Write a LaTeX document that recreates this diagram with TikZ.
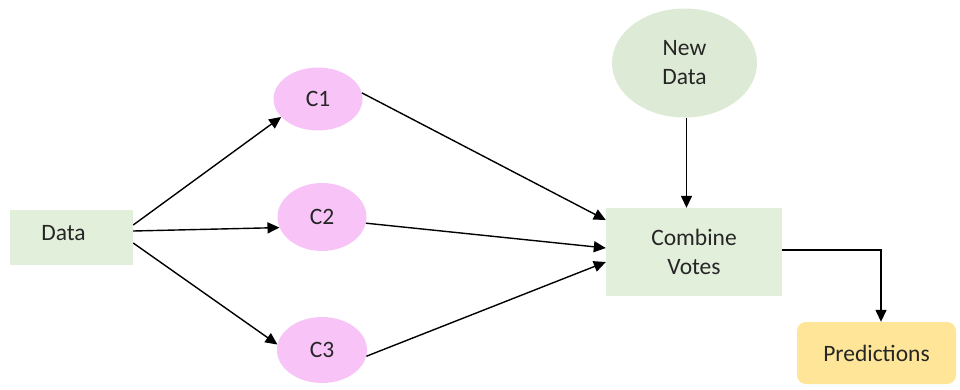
\documentclass[tikz,border=0pt]{standalone}
\usepackage{fontspec}
\setmainfont{Carlito}
\usetikzlibrary{shapes.geometric,arrows.meta}
\definecolor{boxgreen}{HTML}{E2EFDA}
\definecolor{ovalgreen}{HTML}{DDEAD5}
\definecolor{ovalpink}{HTML}{F8C4F8}
\definecolor{boxyellow}{HTML}{FFE597}
\definecolor{ink}{HTML}{262626}
\tikzset{
  every node/.style={font=\fontsize{23.5}{29}\selectfont, text=ink, inner sep=0pt, align=center},
  greenbox/.style={rectangle, fill=boxgreen},
  pinkoval/.style={ellipse, fill=ovalpink},
  greenoval/.style={ellipse, fill=ovalgreen},
  resultbox/.style={rectangle, rounded corners=9pt, fill=boxyellow},
  arr/.style={-{Triangle[length=12pt,width=11pt]}, line width=1.4pt, black}
}
\begin{document}
\begin{tikzpicture}[x=1pt,y=-1pt]
\useasboundingbox (0,0) rectangle (960,389);
% input data and the three classifiers
\node[greenbox, minimum width=123pt, minimum height=55pt,
      label={[xshift=-8pt,yshift=4pt]center:Data}] (data) at (71.5,237.5) {};
\node[pinkoval, minimum width=89pt, minimum height=63pt] (c1) at (318,99) {C1};
\node[pinkoval, minimum width=89pt, minimum height=68pt] (c2) at (322,217) {C2};
\node[pinkoval, minimum width=90pt, minimum height=66pt] (c3) at (322,350) {C3};
% voting stage
\node[greenoval, minimum width=145pt, minimum height=109pt] (nd) at (684.5,63) {New\\Data};
\node[greenbox, minimum width=176pt, minimum height=88pt] (comb) at (694,252) {Combine\\Votes};
\node[resultbox, minimum width=159pt, minimum height=62pt] (pred) at (876.5,353) {Predictions};
% connectors
\draw[arr] ([yshift=12.5pt]data.east) -- (c1.206);
\draw[arr] ([yshift=6.5pt]data.east) -- (c2.194);
\draw[arr] ([yshift=-5.5pt]data.east) -- (c3.173);
\draw[arr] (c1.8) -- ([yshift=32pt]comb.west);
\draw[arr] (c2.352) -- ([yshift=4pt]comb.west);
\draw[arr] (c3.352) -- ([yshift=-10pt]comb.west);
\draw[arr] ([xshift=2pt]nd.south) -- ([xshift=2pt]nd.south |- comb.north);
\draw[arr] ([yshift=2pt]comb.east) -| ([xshift=4.5pt]pred.north);
\end{tikzpicture}
\end{document}
